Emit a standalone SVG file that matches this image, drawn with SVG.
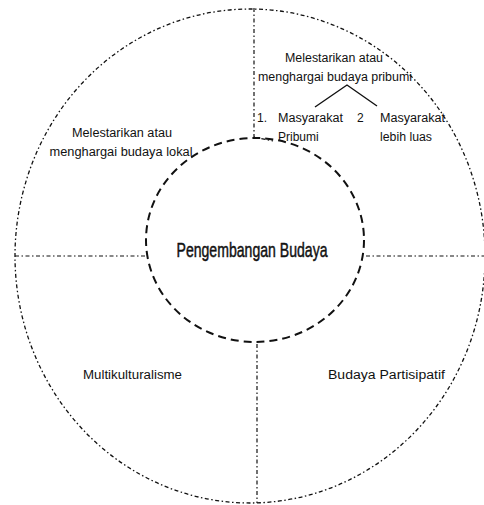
<svg xmlns="http://www.w3.org/2000/svg" width="484" height="505" viewBox="0 0 484 505">
<style>
.outer{fill:none;stroke:#111;stroke-width:1.3;stroke-dasharray:4 2.5 1.5 2.5}
.inner{fill:none;stroke:#111;stroke-width:2;stroke-dasharray:8 5}
.div{fill:none;stroke:#111;stroke-width:1.2;stroke-dasharray:4 2.5 1.5 2.5}
.tree{fill:none;stroke:#111;stroke-width:1.4}
.t{font-family:"Liberation Sans",Arial,sans-serif;font-size:12px;fill:#111}
.c{font-family:"Liberation Sans",Arial,sans-serif;font-size:21px;fill:#111;stroke:#111;stroke-width:0.5}
</style>
<rect width="484" height="505" fill="#fff"/>
<g id="outer-ring">
<ellipse class="outer" cx="250" cy="256" rx="235" ry="247"/>
</g>
<g id="connectors">
<path class="div" d="M15,256 H145"/>
<path class="div" d="M366,256 H484"/>
<path class="div" d="M254,8 V137 L273,141"/>
<path class="div" d="M257,344 V503"/>
<path class="tree" d="M315,107 L347,85 L377,106"/>
</g>
<g id="center">
<ellipse class="inner" cx="255" cy="240" rx="109" ry="102"/>
<text class="c" x="252" y="257" text-anchor="middle" textLength="151" lengthAdjust="spacingAndGlyphs">Pengembangan Budaya</text>
</g>
<g id="lokal">
<text class="t" x="122" y="137" text-anchor="middle" textLength="100" lengthAdjust="spacingAndGlyphs">Melestarikan atau</text>
<text class="t" x="121" y="156" text-anchor="middle" textLength="143" lengthAdjust="spacingAndGlyphs">menghargai budaya lokal</text>
</g>
<g id="pribumi">
<text class="t" x="334" y="62" text-anchor="middle" textLength="98" lengthAdjust="spacingAndGlyphs">Melestarikan atau</text>
<text class="t" x="335" y="81" text-anchor="middle" textLength="154" lengthAdjust="spacingAndGlyphs">menghargai budaya pribumi</text>
<text class="t" x="257" y="122">1.</text>
<text class="t" x="278" y="122" textLength="65" lengthAdjust="spacingAndGlyphs">Masyarakat</text>
<text class="t" x="278" y="141">Pribumi</text>
<text class="t" x="357" y="122">2</text>
<text class="t" x="380" y="122" textLength="65" lengthAdjust="spacingAndGlyphs">Masyarakat</text>
<text class="t" x="380" y="141" textLength="52" lengthAdjust="spacingAndGlyphs">lebih luas</text>
</g>
<g id="multikulturalisme">
<text class="t" x="83" y="379" textLength="99" lengthAdjust="spacingAndGlyphs">Multikulturalisme</text>
</g>
<g id="partisipatif">
<text class="t" x="328" y="379" textLength="117" lengthAdjust="spacingAndGlyphs">Budaya Partisipatif</text>
</g>
</svg>
